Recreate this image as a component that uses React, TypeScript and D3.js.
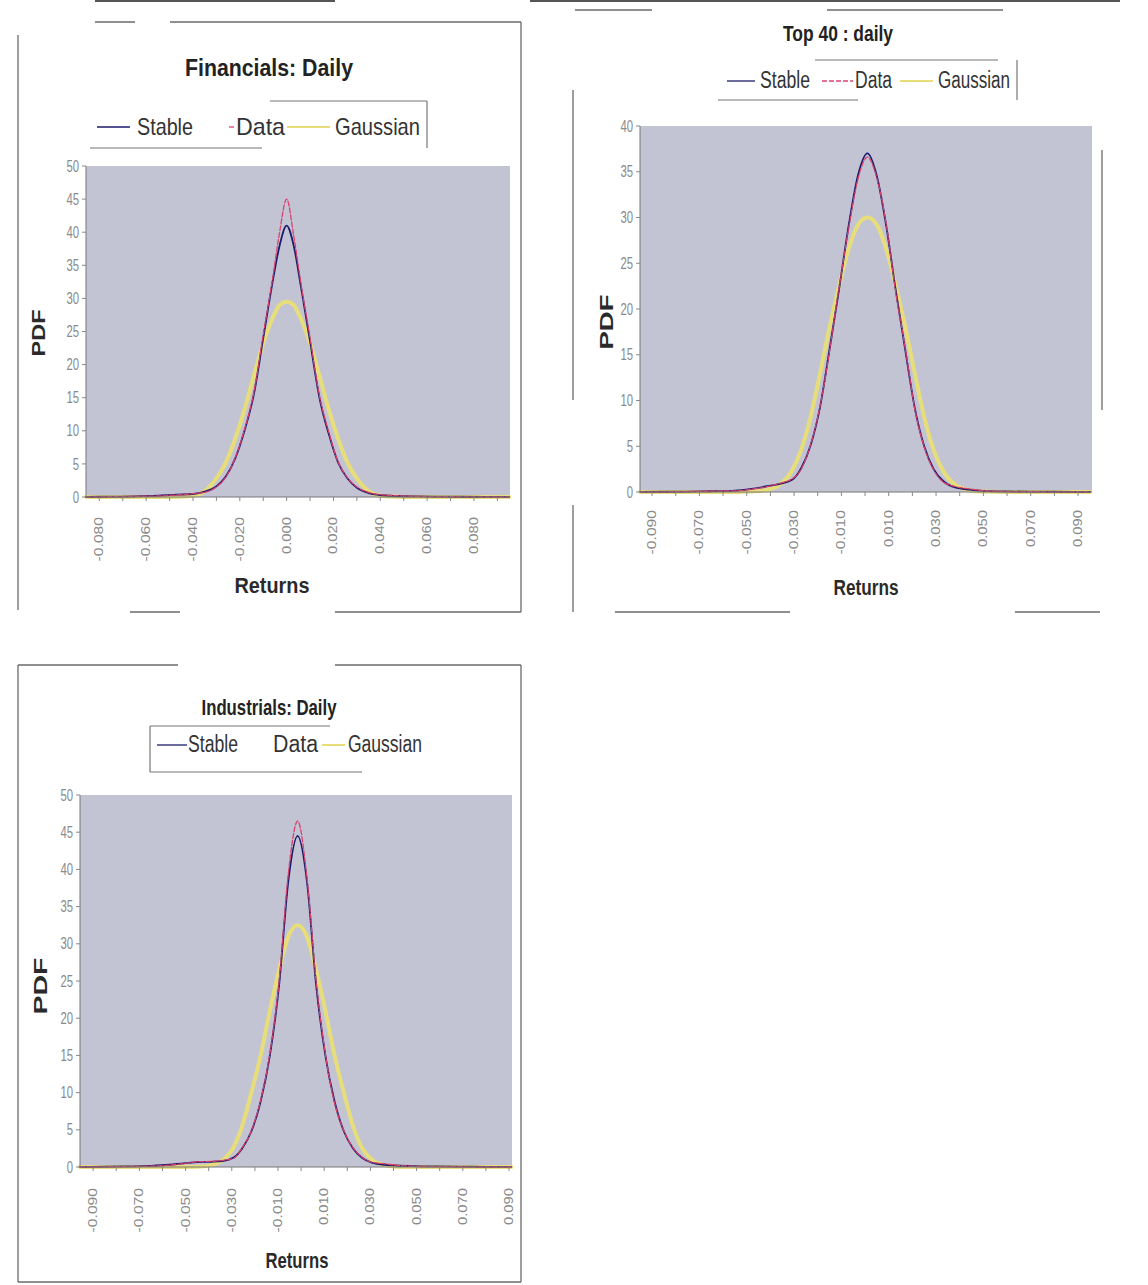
import React from "react";
import * as d3 from "d3";

// ---------------- DATA ----------------
const SERIES_NAMES = ["Stable", "Data", "Gaussian"];

// Financials: Daily
const FIN_X = [-0.0857, -0.075, -0.065, -0.055, -0.047, -0.04, -0.035, -0.03, -0.026, -0.022, -0.018, -0.014, -0.01, -0.006, -0.003, 0, 0.003, 0.006, 0.01, 0.014, 0.018, 0.022, 0.026, 0.03, 0.035, 0.04, 0.047, 0.055, 0.065, 0.075, 0.085, 0.095];
const FIN_STABLE = [0.03, 0.05, 0.1, 0.2, 0.35, 0.45, 0.8, 1.6, 3.1, 5.8, 10, 15.5, 24, 32.5, 38, 41, 38, 32, 23.5, 15, 9.5, 5.2, 2.8, 1.4, 0.6, 0.3, 0.15, 0.08, 0.05, 0.04, 0.03, 0.02];
const FIN_DATA = [0.0, 0.05, 0.1, 0.15, 0.3, 0.5, 0.7, 1.5, 3.0, 5.9, 10.2, 15.8, 24.5, 33, 40, 45, 39.5, 32.5, 24, 15.3, 9.8, 5.3, 2.9, 1.5, 0.7, 0.35, 0.2, 0.1, 0.05, 0.03, 0.0, 0.0];
const FIN_GAUSS = [0, 0, 0, 0, 0.02, 0.2, 0.9, 2.8, 5.2, 8.8, 13.2, 18.3, 23.2, 27, 29, 29.5, 29, 27, 23.2, 18.3, 13.2, 8.8, 5.2, 2.8, 0.9, 0.2, 0.02, 0, 0, 0, 0, 0];
const FIN_TICKS = [-0.08, -0.06, -0.04, -0.02, 0, 0.02, 0.04, 0.06, 0.08];
const FIN_TICK_LABELS = ["-0.080", "-0.060", "-0.040", "-0.020", "0.000", "0.020", "0.040", "0.060", "0.080"];
const FIN_Y_TICKS = [0, 5, 10, 15, 20, 25, 30, 35, 40, 45, 50];

// Top 40 : daily
const T40_X = [-0.095, -0.085, -0.075, -0.065, -0.055, -0.048, -0.042, -0.036, -0.031, -0.027, -0.023, -0.019, -0.015, -0.011, -0.007, -0.003, 0.001, 0.005, 0.009, 0.013, 0.017, 0.021, 0.025, 0.029, 0.033, 0.038, 0.044, 0.05, 0.06, 0.07, 0.08, 0.095];
const T40_STABLE = [0.02, 0.03, 0.05, 0.08, 0.15, 0.35, 0.6, 0.9, 1.3, 2.6, 5.1, 9.3, 15.6, 22.1, 29, 34.6, 37, 34.5, 29, 22, 15.5, 9.2, 5.0, 2.5, 1.2, 0.5, 0.25, 0.12, 0.06, 0.04, 0.03, 0.02];
const T40_DATA = [0.0, 0.02, 0.05, 0.1, 0.12, 0.3, 0.55, 0.95, 1.4, 2.5, 5.2, 9.4, 15.4, 22.3, 28.7, 34.2, 36.6, 34.3, 29.2, 21.8, 15.7, 9.1, 4.9, 2.4, 1.1, 0.6, 0.35, 0.15, 0.05, 0.03, 0.02, 0.0];
const T40_GAUSS = [0, 0, 0, 0, 0.01, 0.05, 0.2, 0.8, 2.3, 4.6, 8.2, 13, 18, 22.5, 26.5, 29.2, 30, 29.2, 26.5, 22.5, 18, 13, 8.2, 4.6, 2.3, 0.8, 0.2, 0.05, 0.01, 0, 0, 0];
const T40_TICKS = [-0.09, -0.07, -0.05, -0.03, -0.01, 0.01, 0.03, 0.05, 0.07, 0.09];
const T40_TICK_LABELS = ["-0.090", "-0.070", "-0.050", "-0.030", "-0.010", "0.010", "0.030", "0.050", "0.070", "0.090"];
const T40_Y_TICKS = [0, 5, 10, 15, 20, 25, 30, 35, 40];

// Industrials: Daily
const IND_X = [-0.0957, -0.085, -0.075, -0.065, -0.057, -0.051, -0.045, -0.039, -0.034, -0.029, -0.0255, -0.0215, -0.0175, -0.0135, -0.0095, -0.0055, -0.0015, 0.0025, 0.0065, 0.0105, 0.0145, 0.0185, 0.0225, 0.0265, 0.031, 0.036, 0.041, 0.049, 0.059, 0.07, 0.08, 0.091];
const IND_STABLE = [0.02, 0.04, 0.08, 0.15, 0.3, 0.5, 0.65, 0.7, 0.8, 1.3, 2.5, 4.8, 8.8, 15, 24.5, 38.5, 44.5, 38.5, 24.5, 15, 8.8, 4.8, 2.5, 1.2, 0.55, 0.3, 0.2, 0.12, 0.08, 0.05, 0.03, 0.02];
const IND_DATA = [0.0, 0.03, 0.06, 0.12, 0.25, 0.45, 0.7, 0.75, 0.9, 1.2, 2.6, 4.9, 9.0, 15.3, 25, 39.5, 46.5, 39, 25, 15.2, 8.6, 4.9, 2.6, 1.3, 0.6, 0.45, 0.25, 0.1, 0.05, 0.03, 0.0, 0.0];
const IND_GAUSS = [0, 0, 0, 0, 0, 0, 0.02, 0.25, 0.9, 2.8, 5.5, 10, 15, 21, 26.5, 31, 32.5, 31, 26.5, 21, 15, 10, 5.5, 2.5, 0.9, 0.25, 0.05, 0, 0, 0, 0, 0];
const IND_TICKS = [-0.09, -0.07, -0.05, -0.03, -0.01, 0.01, 0.03, 0.05, 0.07, 0.09];
const IND_TICK_LABELS = ["-0.090", "-0.070", "-0.050", "-0.030", "-0.010", "0.010", "0.030", "0.050", "0.070", "0.090"];
const IND_Y_TICKS = [0, 5, 10, 15, 20, 25, 30, 35, 40, 45, 50];

// ---------------- STYLE / LAYOUT ----------------
const NARROW = "'Liberation Sans','Arial',sans-serif";
const PLOT_FILL = "#c2c4d4";
const STYLES: Record<string, any> = {
  Stable: { stroke: "#1d1b6b", width: 1.8, dash: null },
  Data: { stroke: "#d9416f", width: 1.3, dash: "5,2" },
  Gaussian: { stroke: "#e7de7a", width: 4, dash: null },
};

const CHARTS = [
  {
    xs: FIN_X, values: [FIN_STABLE, FIN_DATA, FIN_GAUSS],
    ticks: FIN_TICKS, tickLabels: FIN_TICK_LABELS, yTicks: FIN_Y_TICKS, yMax: 50,
    xDomain: [-0.0857, 0.0954],
    plot: { x0: 86, x1: 510, y0: 166, y1: 497 },
    box: [[18, 35, 18, 610], [95, 22, 135, 22], [170, 22, 521, 22], [521, 22, 521, 612], [130, 612, 180, 612], [335, 612, 521, 612]],
    title: { text: "Financials: Daily", x: 269, y: 76, size: 23, len: 168 },
    legend: {
      box: [[270, 101, 427, 101], [427, 101, 427, 148], [90, 148, 262, 148]],
      ly: 127, ty: 135, size: 24,
      items: [{ lx0: 97, lx1: 130, tx: 137, tw: 56 }, { lx0: 229, lx1: 234, tx: 236, tw: 49 }, { lx0: 287, lx1: 330, tx: 335, tw: 85 }],
    },
    returns: { x: 272, y: 593, len: 75 },
    pdf: { x: 45, y: 333, len: 47 },
    labelOffset: 20,
  },
  {
    xs: T40_X, values: [T40_STABLE, T40_DATA, T40_GAUSS],
    ticks: T40_TICKS, tickLabels: T40_TICK_LABELS, yTicks: T40_Y_TICKS, yMax: 40,
    xDomain: [-0.0951, 0.0959],
    plot: { x0: 640, x1: 1092, y0: 126, y1: 492 },
    box: [[573, 90, 573, 400], [573, 505, 573, 612], [575, 10, 652, 10], [827, 10, 1003, 10], [1102, 150, 1102, 410], [615, 612, 790, 612], [1015, 612, 1100, 612]],
    title: { text: "Top 40 : daily", x: 838, y: 41, size: 22, len: 110 },
    legend: {
      box: [[815, 60, 998, 60], [1017, 60, 1017, 100], [718, 100, 858, 100]],
      ly: 81, ty: 88, size: 23,
      items: [{ lx0: 727, lx1: 755, tx: 760, tw: 50 }, { lx0: 822, lx1: 853, tx: 855, tw: 37 }, { lx0: 900, lx1: 933, tx: 938, tw: 72 }],
    },
    returns: { x: 866, y: 595, len: 65 },
    pdf: { x: 613, y: 322, len: 55 },
    labelOffset: 18,
  },
  {
    xs: IND_X, values: [IND_STABLE, IND_DATA, IND_GAUSS],
    ticks: IND_TICKS, tickLabels: IND_TICK_LABELS, yTicks: IND_Y_TICKS, yMax: 50,
    xDomain: [-0.0957, 0.0913],
    plot: { x0: 80, x1: 512, y0: 795, y1: 1167 },
    box: [[18, 665, 18, 1282], [18, 665, 178, 665], [335, 665, 521, 665], [521, 665, 521, 1282], [18, 1282, 521, 1282]],
    title: { text: "Industrials: Daily", x: 269, y: 715, size: 22, len: 135 },
    legend: {
      box: [[150, 726, 330, 726], [150, 726, 150, 772], [150, 772, 362, 772]],
      ly: 745, ty: 752, size: 23,
      items: [{ lx0: 157, lx1: 187, tx: 188, tw: 50 }, { lx0: 0, lx1: 0, tx: 273, tw: 45 }, { lx0: 322, lx1: 345, tx: 348, tw: 74 }],
    },
    returns: { x: 297, y: 1268, len: 63 },
    pdf: { x: 47, y: 986, len: 57 },
    labelOffset: 21,
  },
];

const PAGE_LINES = [[95, 1, 335, 1], [530, 1, 1120, 1]];

function Chart({ cfg }: { cfg: any }) {
  const { plot } = cfg;
  const x = d3.scaleLinear().domain(cfg.xDomain).range([plot.x0, plot.x1]);
  const y = d3.scaleLinear().domain([0, cfg.yMax]).range([plot.y1, plot.y0]);
  const minor = d3.range(Math.ceil(cfg.xDomain[0] / 0.01 - 1e-9), Math.floor(cfg.xDomain[1] / 0.01 + 1e-9) + 1).map((k: number) => k * 0.01);
  const order = [2, 0, 1];
  return (
    <g>
      {cfg.box.map((s: number[], i: number) => (
        <line key={"b" + i} x1={s[0]} y1={s[1]} x2={s[2]} y2={s[3]} stroke="#6a6a6a" strokeWidth={1.3} />
      ))}
      <text x={cfg.title.x} y={cfg.title.y} textAnchor="middle" fontFamily={NARROW} fontWeight="bold"
        fontSize={cfg.title.size} fill="#222" textLength={cfg.title.len} lengthAdjust="spacingAndGlyphs">{cfg.title.text}</text>
      {cfg.legend.box.map((s: number[], i: number) => (
        <line key={"lb" + i} x1={s[0]} y1={s[1]} x2={s[2]} y2={s[3]} stroke="#777" strokeWidth={1.2} />
      ))}
      {cfg.legend.items.map((it: any, i: number) => {
        const st = STYLES[SERIES_NAMES[i]];
        return (
          <g key={"li" + i}>
            {it.lx1 > it.lx0 && (
              <line x1={it.lx0} x2={it.lx1} y1={cfg.legend.ly} y2={cfg.legend.ly} stroke={st.stroke}
                strokeWidth={i === 2 ? 2 : 1.3} strokeDasharray={st.dash || undefined} />
            )}
            <text x={it.tx} y={cfg.legend.ty} fontFamily={NARROW} fontSize={cfg.legend.size} fill="#333"
              textLength={it.tw} lengthAdjust="spacingAndGlyphs">{SERIES_NAMES[i]}</text>
          </g>
        );
      })}
      <rect x={plot.x0} y={plot.y0} width={plot.x1 - plot.x0} height={plot.y1 - plot.y0} fill={PLOT_FILL} />
      {order.map((si) => {
        const st = STYLES[SERIES_NAMES[si]];
        const vals: number[] = cfg.values[si];
        const line = d3.line<number>()
          .x((_: number, i: number) => x(cfg.xs[i]))
          .y((v: number) => y(v))
          .curve(d3.curveMonotoneX);
        return (
          <path key={"s" + si} d={line(vals) || ""} fill="none" stroke={st.stroke} strokeWidth={st.width}
            strokeDasharray={st.dash || undefined} strokeLinejoin="round" strokeLinecap="round" />
        );
      })}
      {/* y axis */}
      <line x1={plot.x0} x2={plot.x0} y1={plot.y0} y2={plot.y1} stroke="#777" strokeWidth={1} />
      {cfg.yTicks.map((t: number) => (
        <g key={"yt" + t}>
          <line x1={plot.x0 - 4} x2={plot.x0} y1={y(t)} y2={y(t)} stroke="#888" />
          <text x={plot.x0 - 7} y={y(t)} dy="0.35em" textAnchor="end" fontFamily={NARROW} fontSize={16}
            fill="#8a8a8a" textLength={String(t).length * 6.3} lengthAdjust="spacingAndGlyphs">{t}</text>
        </g>
      ))}
      {/* x axis */}
      <line x1={plot.x0} x2={plot.x1} y1={plot.y1} y2={plot.y1} stroke="#777" strokeWidth={1} />
      {minor.map((t: number, i: number) => (
        <line key={"xm" + i} x1={x(t)} x2={x(t)} y1={plot.y1} y2={plot.y1 + 4} stroke="#888" />
      ))}
      {cfg.ticks.map((t: number, i: number) => {
        const lbl = cfg.tickLabels[i];
        const tx = x(t) + 4;
        const ty = plot.y1 + cfg.labelOffset;
        return (
          <text key={"xl" + i} transform={`translate(${tx},${ty}) rotate(-90)`} textAnchor="end"
            fontFamily={NARROW} fontSize={12.5} fill="#8a8a8a" textLength={lbl.length * 7.4}
            lengthAdjust="spacingAndGlyphs">{lbl}</text>
        );
      })}
      <text x={cfg.returns.x} y={cfg.returns.y} textAnchor="middle" fontFamily={NARROW} fontWeight="bold"
        fontSize={22} fill="#2a2a2a" textLength={cfg.returns.len} lengthAdjust="spacingAndGlyphs">Returns</text>
      <text transform={`translate(${cfg.pdf.x},${cfg.pdf.y}) rotate(-90)`} textAnchor="middle" fontFamily={NARROW}
        fontWeight="bold" fontSize={18} fill="#2a2a2a" textLength={cfg.pdf.len} lengthAdjust="spacingAndGlyphs">PDF</text>
    </g>
  );
}

export default function App() {
  return (
    <svg width={1148} height={1285} style={{ position: "absolute", left: 0, top: 0, background: "#fff" }}>
      <rect x={0} y={0} width={1148} height={1285} fill="#fff" />
      {PAGE_LINES.map((s, i) => (
        <line key={"p" + i} x1={s[0]} y1={s[1]} x2={s[2]} y2={s[3]} stroke="#555" strokeWidth={2} />
      ))}
      {CHARTS.map((c, i) => (
        <Chart key={i} cfg={c} />
      ))}
    </svg>
  );
}
